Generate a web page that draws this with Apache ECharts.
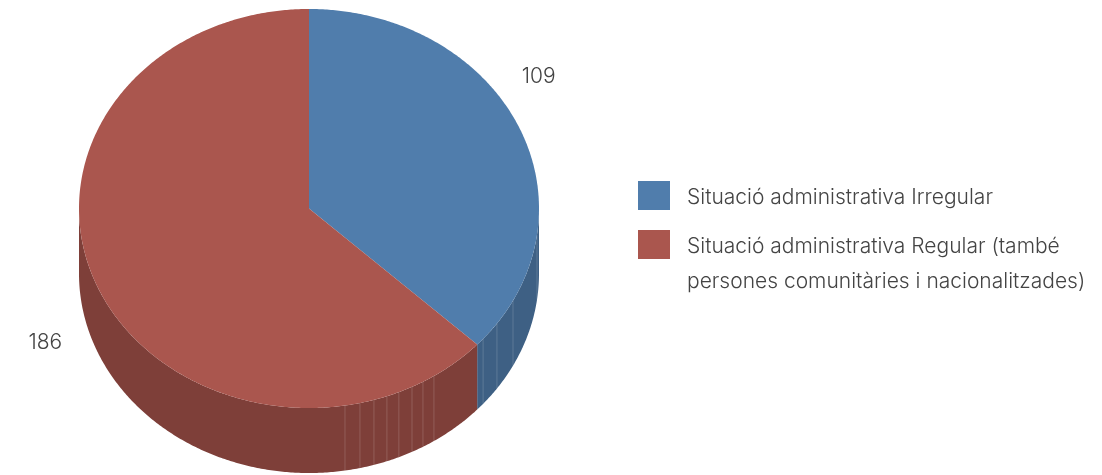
<!DOCTYPE html>
<html>
<head>
<meta charset="utf-8">
<style>html,body{margin:0;padding:0;background:#fff}#main{width:1102px;height:475px}</style>
<script src="https://cdn.jsdelivr.net/npm/echarts@6/dist/echarts.min.js"></script>
</head>
<body>
<div id="main"></div>
<script>
// pie values
const categories = [
  'Situació administrativa Irregular',
  'Situació administrativa Regular (també\npersones comunitàries i nacionalitzades)'
];
const values = [109, 186];
const topColors = ['#507dac', '#aa564e'];
const sideColors = ['#3e6084', '#7e3f39'];
// faint joints visible on the rim, degrees clockwise from 12 o'clock
const seamAngles = [97.6, 117.5, 125.2, 130.8, 147.1, 150.3, 153.4, 157, 160.2, 163.6, 167.2, 171];

const total = values.reduce((a, b) => a + b, 0);
const cx = 309, cy = 208.5, rx = 230, ry = 199.5, depth = 65;
const fontName = 'Inter';

function ellipsePoint(deg, dy) {
  const a = deg * Math.PI / 180;
  return [cx + rx * Math.sin(a), cy - ry * Math.cos(a) + (dy || 0)];
}

function arc(from, to, dy) {
  const pts = [];
  const n = Math.max(2, Math.ceil(Math.abs(to - from) * 2));
  for (let i = 0; i <= n; i++) pts.push(ellipsePoint(from + (to - from) * i / n, dy));
  return pts;
}

function renderSlice(idx) {
  return function () {
    const before = values.slice(0, idx).reduce((a, b) => a + b, 0);
    const start = before / total * 360;
    const end = (before + values[idx]) / total * 360;
    const mid = (start + end) / 2;
    const children = [];

    // side wall only where the rim faces the viewer (90-270 deg)
    const s0 = Math.max(start, 90), s1 = Math.min(end, 270);
    if (s1 > s0) {
      children.push({
        type: 'polygon',
        shape: { points: arc(s0, s1, 0).concat(arc(s1, s0, depth)) },
        style: { fill: sideColors[idx] }
      });
      seamAngles.filter(d => d > s0 && d < s1).forEach(d => {
        const p0 = ellipsePoint(d, 0), p1 = ellipsePoint(d, depth);
        children.push({
          type: 'line',
          shape: { x1: p0[0], y1: p0[1], x2: p1[0], y2: p1[1] },
          style: { stroke: 'rgba(255,255,255,0.16)', lineWidth: 1 }
        });
      });
    }

    children.push({
      type: 'polygon',
      shape: { points: [[cx, cy]].concat(arc(start, end, 0)) },
      style: { fill: topColors[idx] }
    });

    const a = mid * Math.PI / 180;
    children.push({
      type: 'text',
      style: {
        x: 292 + 269 * Math.sin(a),
        y: 210 - 334 * Math.cos(a),
        text: String(values[idx]),
        fill: '#444',
        font: '300 21px ' + fontName,
        align: 'center',
        verticalAlign: 'middle'
      }
    });
    return { type: 'group', children: children };
  };
}

const chart = echarts.init(document.getElementById('main'), null, { renderer: 'canvas' });

chart.setOption({
  animation: false,
  legend: {
    orient: 'vertical',
    left: 638,
    top: 177.5,
    padding: 0,
    itemWidth: 32,
    itemHeight: 29,
    itemGap: -1,
    icon: 'rect',
    textStyle: {
      padding: [0, 0, 0, 12],
      rich: {
        t: { color: '#444', fontFamily: fontName, fontWeight: 300, fontSize: 21, lineHeight: 35 },
        // spacer rows: the text block is centred on the swatch, these push it down
        small: { fontSize: 1, lineHeight: 5 },
        tall: { fontSize: 1, lineHeight: 40 }
      }
    },
    formatter: name => {
      const lines = name.split('\n');
      const spacer = lines.length > 1 ? '{tall| }' : '{small| }';
      return [spacer].concat(lines.map(l => '{t|' + l + '}')).join('\n');
    },
    data: categories
  },
  series: categories.map((name, i) => ({
    type: 'custom',
    name: name,
    coordinateSystem: 'none',
    silent: true,
    itemStyle: { color: topColors[i] },
    data: [values[i]],
    renderItem: renderSlice(i)
  }))
});
</script>
</body>
</html>
